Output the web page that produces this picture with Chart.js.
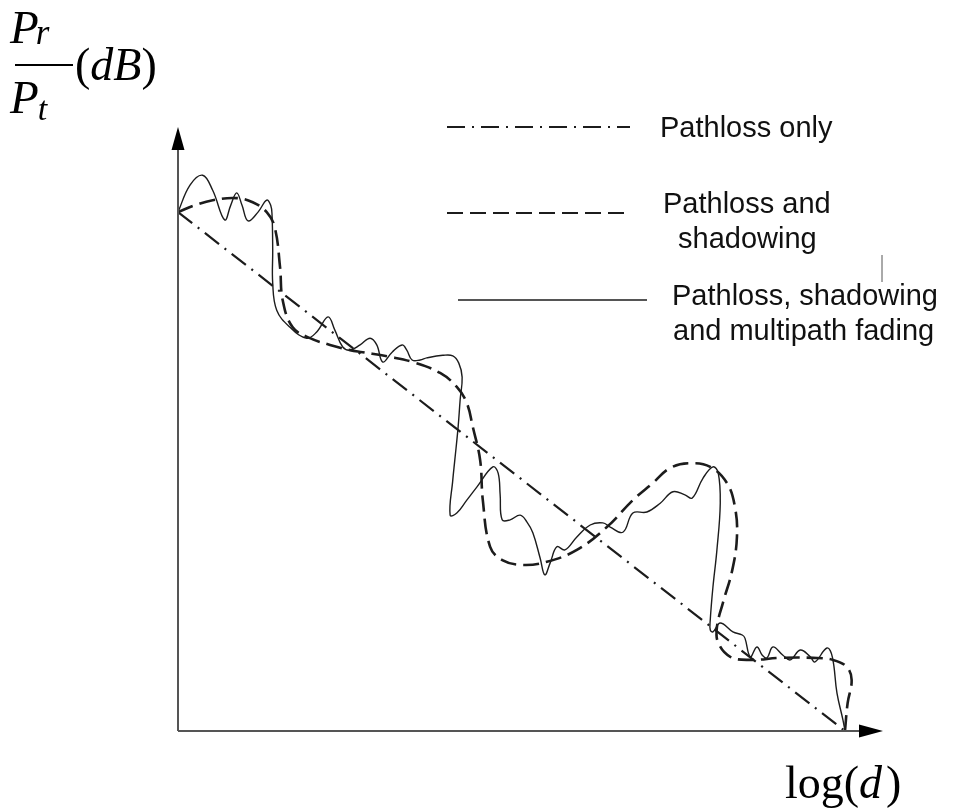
<!DOCTYPE html>
<html>
<head>
<meta charset="utf-8">
<title>Pathloss, shadowing and multipath</title>
<script src="https://cdn.jsdelivr.net/npm/chart.js@4"></script>
<style>
  html, body { margin: 0; padding: 0; background: #fff; }
  canvas { display: block; }
</style>
</head>
<body>
<canvas id="fadingChart" width="962" height="809"></canvas>
<script>
// log-distance (x) vs received power ratio in dB (y)
const legendLabels = [
    ['Pathloss only'],
    ['Pathloss and', 'shadowing'],
    ['Pathloss, shadowing', 'and multipath fading']
];

const pathlossX = [0, 10];
const pathlossY = [10, 0];

const shadowX = [0, 0.25, 0.52, 0.88, 1.12, 1.33, 1.45, 1.53, 1.57, 1.72, 1.98, 2.28, 2.58, 2.77,
    3.18, 3.52, 3.93, 4.18, 4.33, 4.42, 4.53, 4.57, 4.68, 4.87, 5.17, 5.53, 5.98, 6.43, 6.82,
    7.12, 7.38, 7.68, 7.98, 8.23, 8.35, 8.38, 8.31, 8.17, 8.08, 8.10, 8.28, 8.58, 9.03, 9.52,
    9.82, 10.03, 10.10, 10.04, 10.0];
const shadowY = [10.0, 10.13, 10.23, 10.27, 10.19, 10.0, 9.71, 8.94, 8.30, 7.78, 7.57, 7.44, 7.34, 7.30,
    7.21, 7.11, 6.90, 6.63, 6.32, 5.86, 5.22, 4.45, 3.55, 3.29, 3.20, 3.26, 3.49, 3.93, 4.45,
    4.78, 5.07, 5.16, 5.09, 4.78, 4.32, 3.74, 3.10, 2.47, 2.00, 1.70, 1.43, 1.37, 1.41, 1.41,
    1.37, 1.23, 0.98, 0.54, 0];

const fadingX = [0, 0.18, 0.37, 0.52, 0.70, 0.79, 0.88, 0.96, 1.05, 1.20, 1.33, 1.39, 1.41, 1.42, 1.42,
    1.48, 1.68, 1.93, 2.08, 2.25, 2.35, 2.47, 2.58, 2.73, 2.88, 2.98, 3.07, 3.21, 3.36, 3.43,
    3.51, 3.63, 3.73, 3.97, 4.12, 4.21, 4.26, 4.23, 4.20, 4.15, 4.12, 4.08, 4.18, 4.33, 4.48,
    4.72, 4.80, 4.83, 4.86, 4.98, 5.13, 5.23, 5.32, 5.43, 5.50, 5.58, 5.68, 5.80, 5.98, 6.18,
    6.37, 6.48, 6.67, 6.82, 7.03, 7.23, 7.42, 7.60, 7.71, 7.87, 8.02, 8.10, 8.13, 8.08, 8.02,
    7.98, 7.98, 8.02, 8.13, 8.32, 8.46, 8.50, 8.58, 8.68, 8.76, 8.83, 8.92, 9.07, 9.18, 9.33,
    9.48, 9.55, 9.73, 9.81, 9.88, 9.97, 10.0];
const fadingY = [10.0, 10.52, 10.71, 10.42, 9.85, 10.13, 10.37, 10.13, 9.83, 10.0, 10.23, 10.13, 9.94, 9.27, 8.63,
    8.11, 7.78, 7.57, 7.69, 7.98, 7.73, 7.40, 7.34, 7.44, 7.57, 7.44, 7.11, 7.30, 7.44, 7.34,
    7.15, 7.15, 7.19, 7.24, 7.23, 7.09, 6.82, 6.38, 5.86, 5.22, 4.84, 4.16, 4.20, 4.45, 4.70,
    5.09, 4.97, 4.55, 4.07, 4.07, 4.16, 4.03, 3.82, 3.33, 3.01, 3.24, 3.55, 3.49, 3.74, 3.97,
    4.01, 3.93, 3.83, 4.20, 4.22, 4.39, 4.61, 4.55, 4.49, 4.87, 5.09, 4.97, 4.39, 3.49, 2.77,
    2.14, 1.95, 1.91, 2.08, 1.91, 1.85, 1.79, 1.43, 1.62, 1.46, 1.41, 1.62, 1.46, 1.37, 1.56,
    1.43, 1.33, 1.60, 1.43, 0.73, 0.21, 0];

const toPoints = (xs, ys) => xs.map((x, i) => ({ x: x, y: ys[i] }));

const INK = '#1c1c1c';
const AXIS = '#555';
const SANS = '"Liberation Sans", Arial, sans-serif';
const SERIF = '"Liberation Serif", "Times New Roman", serif';

// draws a run of text pieces one after another, each with its own font and y shift
function drawRun(ctx, x, y, pieces) {
    pieces.forEach(p => {
        ctx.font = p.font;
        ctx.fillText(p.text, x, y + (p.dy || 0));
        x += ctx.measureText(p.text).width + (p.gap || 0);
    });
}

const axesPlugin = {
    id: 'arrowAxes',
    afterDraw(chart) {
        const ctx = chart.ctx;
        const area = chart.chartArea;
        const x0 = chart.scales.x.getPixelForValue(0);
        const y0 = chart.scales.y.getPixelForValue(0);
        ctx.save();

        // axis lines
        ctx.strokeStyle = AXIS;
        ctx.lineWidth = 2;
        ctx.beginPath();
        ctx.moveTo(x0, y0);
        ctx.lineTo(x0, area.top + 22);
        ctx.moveTo(x0, y0);
        ctx.lineTo(area.right - 23, y0);
        ctx.stroke();

        // arrow heads
        ctx.fillStyle = '#000';
        ctx.beginPath();
        ctx.moveTo(x0, area.top);
        ctx.lineTo(x0 - 6.5, area.top + 23);
        ctx.lineTo(x0 + 6.5, area.top + 23);
        ctx.closePath();
        ctx.fill();
        ctx.beginPath();
        ctx.moveTo(area.right, y0);
        ctx.lineTo(area.right - 24, y0 - 6.5);
        ctx.lineTo(area.right - 24, y0 + 6.5);
        ctx.closePath();
        ctx.fill();

        // y axis label: Pr / Pt (dB)
        ctx.fillStyle = '#000';
        ctx.textBaseline = 'alphabetic';
        drawRun(ctx, 10, 43, [
            { text: 'P', font: 'italic 47px ' + SERIF, gap: -3 },
            { text: 'r', font: 'italic 35px ' + SERIF, dy: 1 }
        ]);
        drawRun(ctx, 10, 113, [
            { text: 'P', font: 'italic 47px ' + SERIF, gap: -1 },
            { text: 't', font: 'italic 34px ' + SERIF, dy: 7 }
        ]);
        ctx.fillRect(15, 64, 58, 2);
        drawRun(ctx, 75, 80, [
            { text: '(', font: '46px ' + SERIF },
            { text: 'dB', font: 'italic 46px ' + SERIF },
            { text: ')', font: '46px ' + SERIF }
        ]);

        // x axis label: log(d)
        drawRun(ctx, 785, 798, [
            { text: 'log(', font: '46px ' + SERIF },
            { text: 'd', font: 'italic 46px ' + SERIF, gap: 4 },
            { text: ')', font: '46px ' + SERIF }
        ]);
        ctx.restore();
    }
};

const legendPlugin = {
    id: 'sampleLegend',
    afterDraw(chart) {
        const ctx = chart.ctx;
        // sample line x-range, sample y, text x, first baseline for each entry
        const rows = [
            { x1: 447, x2: 630, y: 127, tx: 660, ty: 137 },
            { x1: 447, x2: 630, y: 213, tx: 663, ty: 213 },
            { x1: 458, x2: 647, y: 300, tx: 672, ty: 305 }
        ];
        const indents = [[0], [0, 15], [0, 1]];
        ctx.save();
        chart.data.datasets.forEach((ds, i) => {
            const r = rows[i];
            ctx.strokeStyle = ds.borderColor;
            ctx.lineWidth = Math.min(ds.borderWidth, 2);
            ctx.setLineDash(ds.borderDash || []);
            ctx.beginPath();
            ctx.moveTo(r.x1, r.y);
            ctx.lineTo(r.x2, r.y);
            ctx.stroke();

            ctx.setLineDash([]);
            ctx.fillStyle = '#111';
            ctx.font = '29px ' + SANS;
            legendLabels[i].forEach((line, j) => {
                ctx.fillText(line, r.tx + indents[i][j], r.ty + j * 35);
            });
        });
        // small stray tick above "shadowing"
        ctx.strokeStyle = '#555';
        ctx.lineWidth = 1;
        ctx.beginPath();
        ctx.moveTo(882, 255);
        ctx.lineTo(882, 282);
        ctx.stroke();
        ctx.restore();
    }
};

const chart = new Chart(document.getElementById('fadingChart').getContext('2d'), {
    type: 'line',
    data: {
        datasets: [
            {
                label: legendLabels[0].join(' '),
                data: toPoints(pathlossX, pathlossY),
                borderColor: INK,
                borderWidth: 2.2,
                borderDash: [18, 7, 2, 7],
                pointRadius: 0,
                tension: 0
            },
            {
                label: legendLabels[1].join(' '),
                data: toPoints(shadowX, shadowY),
                borderColor: INK,
                borderWidth: 2.6,
                borderDash: [16, 7],
                pointRadius: 0,
                tension: 0.4
            },
            {
                label: legendLabels[2].join(' '),
                data: toPoints(fadingX, fadingY),
                borderColor: INK,
                borderWidth: 1.4,
                pointRadius: 0,
                tension: 0.4
            }
        ]
    },
    options: {
        responsive: false,
        animation: false,
        clip: false,
        layout: { padding: { left: 178, top: 127, right: 79, bottom: 78 } },
        plugins: { legend: { display: false }, tooltip: { enabled: false } },
        scales: {
            x: { type: 'linear', min: 0, max: 10.57, display: false },
            y: { type: 'linear', min: 0, max: 11.64, display: false }
        }
    },
    plugins: [axesPlugin, legendPlugin]
});
</script>
</body>
</html>
